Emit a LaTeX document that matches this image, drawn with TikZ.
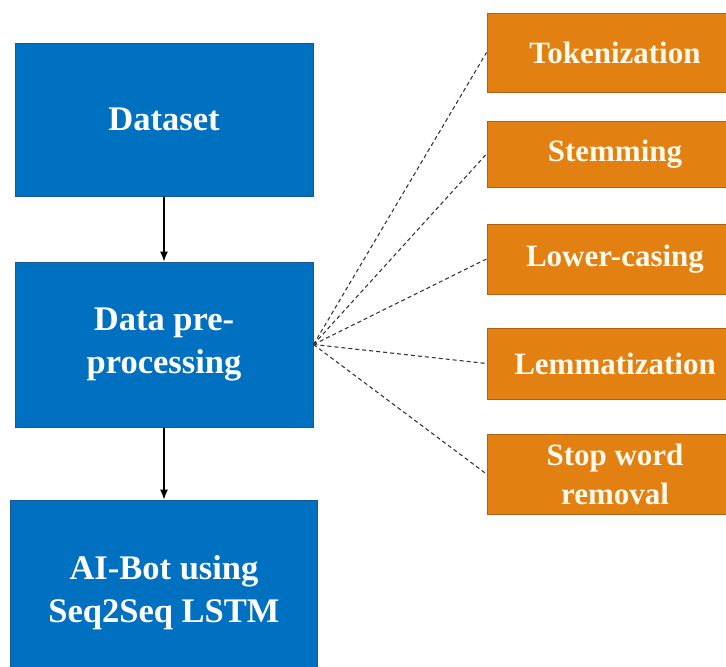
\documentclass[tikz,border=0pt]{standalone}
\usepackage{fontspec}
\setmainfont{Liberation Serif}
\usepackage{tikz}
\usetikzlibrary{arrows.meta,positioning}
\definecolor{boxblue}{RGB}{0,112,192}
\definecolor{boxblueline}{RGB}{25,88,150}
\definecolor{boxorange}{RGB}{226,128,18}
\definecolor{boxorangeline}{RGB}{176,98,20}
\definecolor{textcream}{RGB}{255,250,236}
\definecolor{dashgray}{RGB}{55,55,55}

\begin{document}
\begin{tikzpicture}[x=1pt, y=-1pt, >={Latex[length=10pt,width=8pt]},
			stagebox/.style={draw=boxblueline, fill=boxblue, rectangle, line width=1pt, minimum width=298pt, inner sep=0pt, align=center, text=white, font=\bfseries\fontsize{34.5}{43}\selectfont},
			taskbox/.style={draw=boxorangeline, fill=boxorange, rectangle, line width=1pt, minimum width=256pt, inner sep=0pt, align=center, text=textcream, font=\bfseries\fontsize{31}{39}\selectfont},
			flowLine/.style={line width=1.1pt, ->, color=black},
			linkLine/.style={line width=1.1pt, -, color=dashgray, dash pattern=on 4pt off 3pt}
			]
			\path[use as bounding box, clip] (0,0) rectangle (726,667);
			
			\node[stagebox, minimum height=153pt](data) at (164,119.5) {Dataset};
			\node[stagebox, minimum height=165pt](prep) [below = 65pt of data] {Data pre-\\processing};
			\node[stagebox, minimum height=186pt, minimum width=307pt](bot) [below = 72pt of prep] {AI-Bot using\\Seq2Seq LSTM};
			
			\node[taskbox, minimum height=79pt](tok) at (615,52.5) {Tokenization};
			\node[taskbox, minimum height=66pt](stem) [below = 28pt of tok] {Stemming};
			\node[taskbox, minimum height=70pt](lower) [below = 36pt of stem] {Lower-casing};
			\node[taskbox, minimum height=71pt](lemma) [below = 33pt of lower] {Lemmatization};
			\node[taskbox, minimum height=80pt](stop) [below = 34pt of lemma] {Stop word\\removal};
			
			\draw [flowLine] (data) to (prep);
			\draw [flowLine] (prep) to (bot);
			
			\draw [linkLine] (prep.east) to (tok.west);
			\draw [linkLine] (prep.east) to (stem.west);
			\draw [linkLine] (prep.east) to (lower.west);
			\draw [linkLine] (prep.east) to (lemma.west);
			\draw [linkLine] (prep.east) to (stop.west);
\end{tikzpicture}
\end{document}
